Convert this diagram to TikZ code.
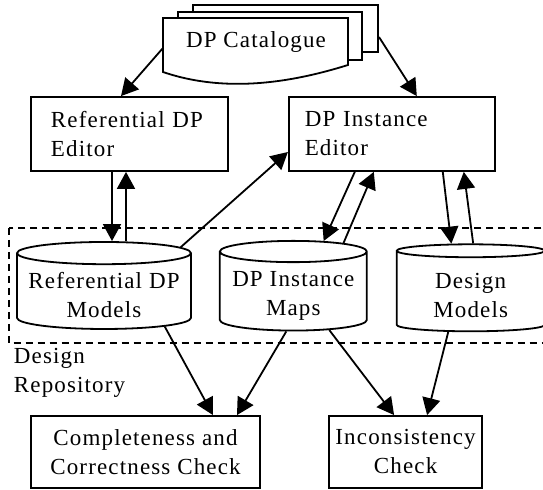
\documentclass[tikz,border=0pt]{standalone}
\usepackage{fontspec}
\setmainfont{Liberation Serif}[LetterSpace=5]
\usetikzlibrary{shapes.geometric,arrows.meta,positioning}

\begin{document}
\begin{tikzpicture}[x=0.5pt, y=-0.5pt, >={Triangle[length=8.5pt,width=9pt]},
    font=\fontsize{11.5}{14.5}\selectfont, line width=0.9pt]
    \tikzstyle{editor} = [draw, rectangle, minimum height=37pt, align=left, inner ysep=2pt]
    \tikzstyle{store} = [draw, cylinder, shape border rotate=90, minimum height=43.5pt, inner sep=0pt, text height=26pt, align=center, fill=white]
    \tikzstyle{check} = [draw, rectangle, minimum height=36pt, align=center]
    \tikzstyle{line} = [draw, ->]

    \useasboundingbox (0,0) rectangle (543,490);

    % DP catalogue (stacked documents)
    \draw[fill=white] (193,5) rectangle (378,52);
    \draw[fill=white] (178,12) rectangle (362,60);
    \draw[fill=white] (163,18) -- (348,18) -- (348,65) .. controls (300,80) and (230,95) .. (163,72) -- cycle;
    \node (cat) at (256,42) {DP Catalogue};
    \coordinate (catL) at (163,48);
    \coordinate (catR) at (379,37);

    % editors
    \node [editor, text width=78.5pt, inner xsep=10pt] (refed) at (129.5,134) {Referential DP\\Editor};
    \node [editor, text width=87pt, inner xsep=8pt, right=29.5pt of refed] (insted) {DP Instance\\Editor};

    % repository
    \draw[dash pattern=on 3.5pt off 2.5pt] (8.7,228) rectangle (580,343);
    \node [store, minimum width=87pt, aspect=0.147] (refmod) at (104,291.5) {Referential DP\\Models};
    \node [store, minimum width=73.5pt, aspect=0.174, right=13.5pt of refmod] (maps) {DP Instance\\Maps};
    \node [store, minimum width=74pt, aspect=0.173, right=14pt of maps] (desmod) {Design\\Models};
    \node [anchor=north west, align=left, inner sep=0pt] (repo) at (13,347) {Design\\Repository};

    % checks
    \node [check, minimum width=114.5pt] (compl) at (145.5,452) {Completeness and\\Correctness Check};
    \node [check, minimum width=61.5pt, right=33.5pt of compl] (incons) {Inconsistency\\Check};

    \draw [line] (catL) -- ([xshift=-4.25pt]refed.north);
    \draw [line] (catR) -- ([xshift=12.5pt]insted.north);

    \draw [line] ([xshift=-8.75pt]refed.south) -- ([xshift=-8.75pt]refed.south |- refmod.north);
    \draw [line] ([xshift=-1.75pt]refed.south |- refmod.north) -- ([xshift=-1.75pt]refed.south);
    \draw [line] (refmod.30.5) -- ([yshift=-9pt]insted.west);

    \draw [line] ([xshift=-18.5pt]insted.south) -- (maps.59);
    \draw [line] (maps.44) -- ([xshift=-9pt]insted.south);
    \draw [line] ([xshift=25.5pt]insted.south) -- (desmod.112);
    \draw [line] (desmod.87) -- ([xshift=36pt]insted.south);

    \draw [line] (refmod.-30) -- ([xshift=33.75pt]compl.north);
    \draw [line] (maps.-100) -- ([xshift=45.75pt]compl.north);
    \draw [line] (maps.-47) -- ([xshift=-5.75pt]incons.north);
    \draw [line] (desmod.-119) -- ([xshift=10.75pt]incons.north);
\end{tikzpicture}
\end{document}
